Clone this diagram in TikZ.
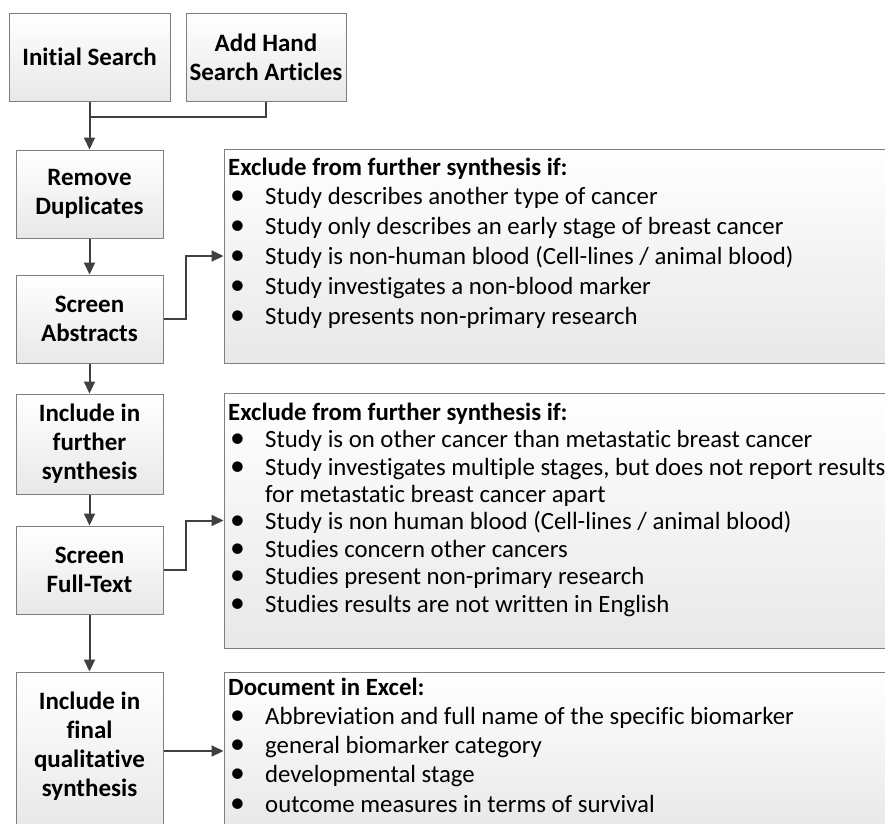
\documentclass[tikz,border=0pt]{standalone}
\usepackage{fontspec}
\setmainfont{Carlito}[Ligatures=NoCommon]
\usetikzlibrary{arrows.meta}
\definecolor{boxgray}{HTML}{7F7F7F}
\definecolor{fillgray}{HTML}{E8E8E8}
\definecolor{linegray}{HTML}{404040}
\newcommand{\bul}{\hspace*{2pt}\makebox[35pt][l]{\scalebox{1.2}{\textbullet}}}
\begin{document}
\begin{tikzpicture}[x=1pt,y=-1pt,
  lbox/.style={draw=boxgray, line width=1pt, top color=white, bottom color=fillgray,
    minimum width=147pt, inner sep=0pt, align=center,
    font=\fontsize{25}{29}\selectfont\bfseries},
  rbox/.style={draw=boxgray, line width=1pt, top color=white, bottom color=fillgray,
    minimum width=666pt, inner sep=0pt},
  listtext/.style={inner sep=0pt, align=left, anchor=base west},
  conn/.style={draw=linegray, line width=2pt},
  arr/.style={conn, -{Triangle[length=12pt,width=11pt]}}]
\useasboundingbox (0,0) rectangle (885,823);
\clip (0,0) rectangle (885,823);
\fill[white] (0,0) rectangle (885,823);
% left column boxes
\node[lbox, minimum width=161pt, minimum height=88pt] (A) at (89.5,57) {Initial Search};
\node[lbox, minimum width=160pt, minimum height=88pt] (B) at (266,57) {Add Hand\\Search Articles};
\node[lbox, minimum height=88pt] (C) at (89.5,194) {Remove\\Duplicates};
\node[lbox, minimum height=88pt] (D) at (89.5,319) {Screen\\Abstracts};
\node[lbox, minimum height=100pt] (E) at (89.5,444) {Include in\\further\\synthesis};
\node[lbox, minimum height=88pt] (F) at (89.5,570) {Screen\\Full-Text};
\node[lbox, minimum height=158pt] (G) at (89.5,751) {Include in\\final\\qualitative\\synthesis\\[-16pt]\mbox{}};
% right boxes
\node[rbox, minimum height=214pt] (R1) at (557,256) {};
\node[rbox, minimum height=255pt] (R2) at (557,520.5) {};
\node[rbox, minimum height=158pt] (R3) at (557,751) {};
% right texts (anchored at baseline of last line)
\node[listtext, font=\fontsize{24.8}{29.8}\selectfont] (T1) at (228,324) {\textbf{Exclude from further synthesis if:}\\
\bul Study describes another type of cancer\\
\bul Study only describes an early stage of breast cancer\\
\bul Study is non-human blood (Cell-lines / animal blood)\\
\bul Study investigates a non-blood marker\\
\bul Study presents non-primary research};
\node[listtext, font=\fontsize{24.8}{27.4}\selectfont] (T2) at (228,612) {\textbf{Exclude from further synthesis if:}\\
\bul Study is on other cancer than metastatic breast cancer\\
\bul Study investigates multiple stages, but does not report results\\
\hspace*{37pt}for metastatic breast cancer apart\\
\bul Study is non human blood (Cell-lines / animal blood)\\
\bul Studies concern other cancers\\
\bul Studies present non-primary research\\
\bul Studies results are not written in English};
\node[listtext, font=\fontsize{24.8}{29.25}\selectfont] (T3) at (228,812) {\textbf{Document in Excel:}\\
\bul Abbreviation and full name of the specific biomarker\\
\bul general biomarker category\\
\bul developmental stage\\
\bul outcome measures in terms of survival};
% connectors
\coordinate (J) at (A.south |- 0,117);
\draw[conn] (A.south) -- (J);
\draw[conn] (B.south) |- (J);
\draw[arr] (J) -- (C.north);
\draw[arr] (C.south) -- (D.north);
\draw[arr] (D.south) -- (E.north);
\draw[arr] (E.south) -- (F.north);
\draw[arr] (F.south) -- (G.north);
\draw[arr] (D.east) -- ++(22,0) |- (R1.west);
\draw[arr] (F.east) -- ++(22,0) |- (R2.west);
\draw[arr] (G.east) -- (G.east -| R3.west);
\end{tikzpicture}
\end{document}
